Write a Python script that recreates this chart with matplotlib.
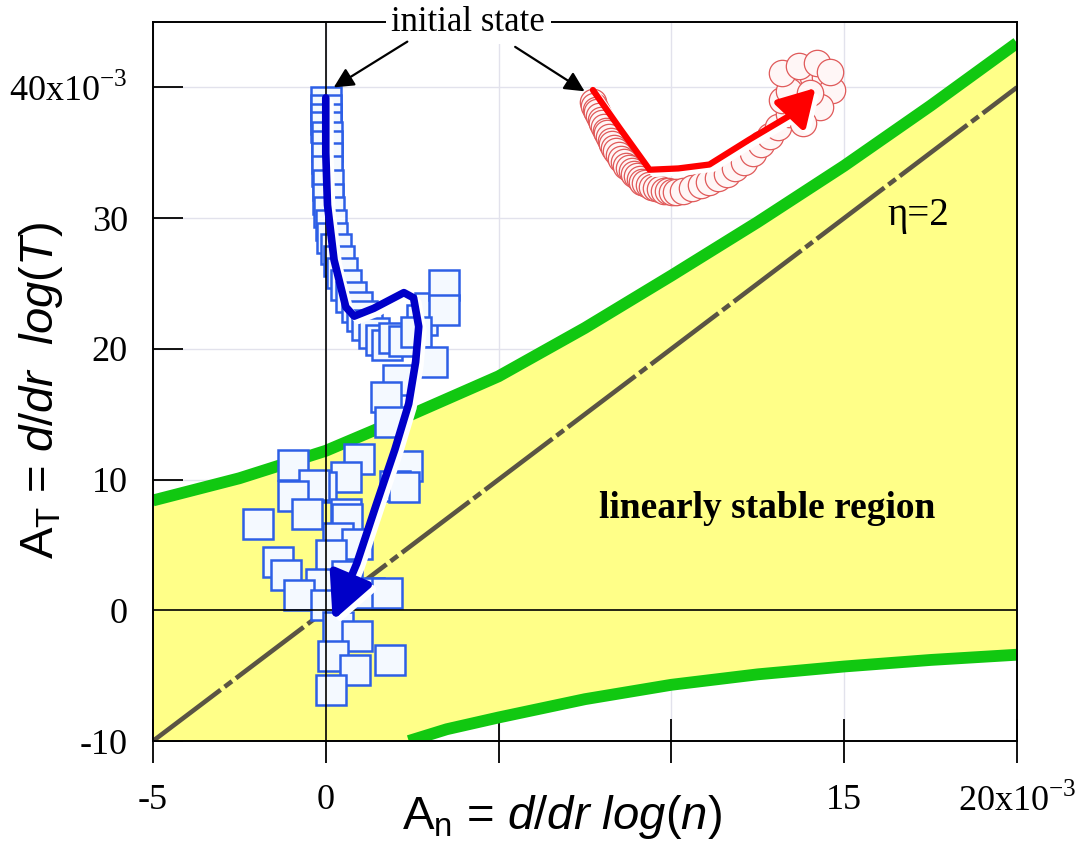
import numpy as np
import matplotlib
matplotlib.use('Agg')
import matplotlib.pyplot as plt
from matplotlib.patches import FancyArrowPatch
from matplotlib.path import Path
from matplotlib.transforms import offset_copy

plt.rcParams['font.family'] = ['Liberation Serif', 'DejaVu Serif']
plt.rcParams['mathtext.fontset'] = 'custom'
plt.rcParams['mathtext.rm'] = 'Liberation Sans'
plt.rcParams['mathtext.it'] = 'Liberation Sans:italic'

# all gradients in units of 1e-3
# boundaries of the linearly stable region
upper_x = [-5, -2.5, 0, 2.5, 5, 7.5, 10, 12.5, 15, 17.5, 20]
upper_y = [8.4, 10.1, 12.2, 15.0, 17.9, 21.6, 25.6, 29.7, 34.0, 38.6, 43.4]
lower_x = [2.4, 3.5, 5, 7.5, 10, 12.5, 15, 17.5, 20]
lower_y = [-10.0, -9.1, -8.2, -6.8, -5.7, -4.9, -4.3, -3.8, -3.4]

# eta = 2 line
eta_x = [-5, 20]
eta_y = [-10, 40]

# case 1 (squares)
sq_x = [0.0, 0.0, 0.02, 0.02, 0.03, 0.03, 0.05, 0.05, 0.07, 0.07, 0.1, 0.14,
        0.19, 0.29, 0.38, 0.48, 0.58, 0.72, 0.91, 1.06, 1.2, 1.39, 1.59, 1.78,
        1.97, 2.26, 2.79, 3.03, 3.41, 3.41, 2.6, 3.07, 2.1, 1.73, 1.87, 2.35,
        0.96, 2.0, 2.25, 0.58, -0.14, -0.96, -0.35, -0.96, -0.53, -1.97, 0.58,
        0.62, 0.34, 0.91, 0.14, -1.39, -1.15, -0.14, -0.77, 0.6, 1.25, 1.78,
        0.0, 0.34, 0.91, 0.2, 1.87, 0.86, 0.14]
sq_y = [38.9, 38.3, 37.6, 37.0, 36.2, 35.5, 34.6, 33.6, 32.5, 31.5, 30.5, 29.5,
        28.5, 27.6, 26.7, 25.8, 24.9, 24.0, 23.2, 22.5, 21.8, 21.2, 20.7, 20.3,
        20.8, 20.6, 22.2, 23.1, 24.9, 22.97, 21.3, 19.0, 17.6, 16.3, 14.4, 11.0,
        11.6, 9.5, 9.4, 10.2, 9.4, 11.1, 9.6, 8.75, 7.4, 6.6, 7.4,
        7.0, 5.5, 5.1, 4.2, 3.7, 2.7, 2.0, 1.2, 2.6, 1.3, 1.3,
        0.4, -1.3, -2.0, -3.5, -3.8, -4.6, -6.1]

# case 2 (circles)
circ_x = [7.72, 7.77, 7.81, 7.86, 7.91, 7.95, 8.0, 8.05, 8.1, 8.14, 8.19, 8.24,
          8.29, 8.34, 8.41, 8.48, 8.55, 8.62, 8.7, 8.78, 8.86, 8.93, 9.0, 9.08,
          9.16, 9.25, 9.35, 9.45, 9.56, 9.67, 9.78, 9.9, 10.02, 10.13,
          10.35, 10.6, 10.85, 11.1, 11.35, 11.6, 11.85, 12.1, 12.35, 12.6,
          12.85, 13.1, 13.4, 13.2, 13.6, 13.8, 14.1, 14.45, 14.65, 14.3, 13.8,
          13.4, 13.2, 13.7, 14.2, 14.6, 14.0]
circ_y = [38.9, 38.6, 38.3, 38.1, 37.8, 37.5, 37.3, 37.0, 36.7, 36.5, 36.2, 35.9,
          35.7, 35.4, 35.1, 34.8, 34.5, 34.3, 34.0, 33.8, 33.6, 33.4, 33.2, 33.0,
          32.8, 32.7, 32.5, 32.4, 32.3, 32.2, 32.1, 32.05, 32.0, 32.0,
          32.1, 32.3, 32.5, 32.8, 33.1, 33.4, 33.8, 34.3, 35.0, 35.7,
          36.3, 37.0, 38.0, 39.0, 39.3, 40.3, 40.8, 40.8, 39.8, 38.5, 37.3,
          39.7, 41.1, 41.6, 41.9, 41.2, 39.6]

# hand drawn trend arrows
blue_path_x = [0.0, 0.0, 0.05, 0.24, 0.58, 0.82, 1.39, 2.26, 2.54, 2.69, 2.6,
               2.4, 2.0, 1.45, 0.9, 0.2]
blue_path_y = [39.2, 35.0, 31.0, 26.8, 23.2, 22.5, 23.1, 24.3, 23.9, 21.7, 19.0,
               15.8, 12.3, 8.0, 3.6, -0.8]
red_path_x = [7.73, 8.5, 9.37, 10.2, 11.1, 12.25, 13.4, 14.17]
red_path_y = [39.8, 36.9, 33.7, 33.8, 34.1, 36.0, 37.8, 39.95]

xticks = [-5, 0, 5, 10, 15, 20]
xticklabels = ['-5', '0', '', '', '15', r'20x10$^{\mathregular{-3}}$']
yticks = [-10, 0, 10, 20, 30, 40]
yticklabels = ['-10', '0', '10', '20', '30', r'40x10$^{\mathregular{-3}}$']


fig = plt.figure(figsize=(10.75, 8.41), dpi=100)
ax = fig.add_axes([0.1423, 0.1189, 0.8037, 0.8549])
ax.set_xlim(-5, 20)
ax.set_ylim(-10, 45)

ax.set_axisbelow(True)
ax.grid(True, color='#e2e2ec', lw=1.0)

# stable region
poly_x = np.concatenate([upper_x, lower_x[::-1], [-5]])
poly_y = np.concatenate([upper_y, lower_y[::-1], [-10]])
ax.fill(poly_x, poly_y, color='#ffff88', lw=0, zorder=1)
ax.plot(upper_x, upper_y, color='#11c811', lw=8.5, solid_capstyle='butt',
        solid_joinstyle='round', zorder=2)
ax.plot(lower_x, lower_y, color='#11c811', lw=8.5, solid_capstyle='butt',
        solid_joinstyle='round', zorder=2)
ax.plot(eta_x, eta_y, color='#5a5444', lw=3.3,
        linestyle=(0, (18.5, 1.1, 2.0, 1.1)), zorder=2)

ax.plot(sq_x, sq_y, ls='none', marker='s', ms=22, mec='#2d5fe6', mew=1.8,
        mfc='#f4f9ff', zorder=3)
ax.plot(circ_x, circ_y, ls='none', marker='o', ms=19, mec='#e05a5a', mew=0.9,
        mfc='#fff6f6', zorder=3)

ax.axvline(0, color='k', lw=1.2, zorder=3.5)
ax.axhline(0, color='k', lw=1.2, zorder=3.5)


def trend_arrow(xs, ys, color, lw, scale, hl, hw):
    verts = np.column_stack([xs, ys])
    shadow = offset_copy(ax.transData, fig=fig, x=3, y=-3, units='points')
    style = '-|>,head_length=%s,head_width=%s' % (hl, hw)
    for col, tr in (('white', shadow), (color, ax.transData)):
        arr = FancyArrowPatch(path=Path(verts), arrowstyle=style,
                              mutation_scale=scale, lw=lw, color=col,
                              joinstyle='round', capstyle='round',
                              transform=tr, zorder=4)
        ax.add_patch(arr)


trend_arrow(blue_path_x, blue_path_y, '#0000c8', 5.5, 50, 0.55, 0.27)
trend_arrow(red_path_x, red_path_y, '#ff0000', 4.5, 40, 0.55, 0.32)

# labels inside the plot
ax.text(4.12, 45, 'initial state', fontsize=25, ha='center', va='center',
        bbox=dict(fc='white', ec='none', pad=4), clip_on=False, zorder=6)
ax.annotate('', xy=(0.23, 40.0), xytext=(2.36, 43.5),
            arrowprops=dict(arrowstyle='-|>', color='k', lw=1.6,
                            mutation_scale=30, shrinkA=0, shrinkB=0), zorder=6)
ax.annotate('', xy=(7.49, 39.7), xytext=(5.48, 43.1),
            arrowprops=dict(arrowstyle='-|>', color='k', lw=1.6,
                            mutation_scale=30, shrinkA=0, shrinkB=0), zorder=6)
ax.text(17.15, 30.2, 'η=2', fontsize=28, ha='center', va='center', zorder=5)
ax.text(12.77, 7.8, 'linearly stable region', fontsize=27, fontweight='bold',
        ha='center', va='center', zorder=5)

# axes
for sp in ax.spines.values():
    sp.set_linewidth(1.4)
ax.set_xticks(xticks, labels=xticklabels)
ax.set_yticks(yticks, labels=yticklabels)
ax.tick_params(axis='x', direction='inout', length=32, width=1.3, pad=15,
               labelsize=26)
ax.tick_params(axis='y', direction='in', length=21.6, width=1.3, pad=18,
               labelsize=26)

ax.set_xlabel(r'A$_\mathregular{n}$ = $\mathit{d/dr\ log(n)}$',
              fontsize=34, family='Liberation Sans')
ax.xaxis.set_label_coords(0.473, -0.072)
ax.set_ylabel(r'A$_\mathregular{T}$ = $\mathit{d/dr\ \ log(T)}$',
              fontsize=34, family='Liberation Sans')
ax.yaxis.set_label_coords(-0.102, 0.488)

fig.savefig('out.png', dpi=100)
